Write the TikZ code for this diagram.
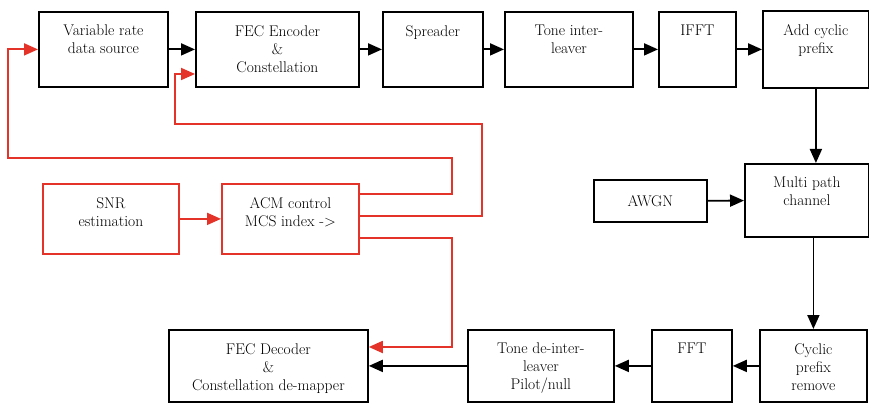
\documentclass[tikz,border=0pt]{standalone}
\usetikzlibrary{arrows.meta}

\definecolor{fbred}{RGB}{228,52,42}

\tikzset{
  blk/.style={draw, line width=1.8pt, anchor=north west, inner sep=0pt},
  fbblk/.style={blk, draw=fbred},
  toptext/.style={anchor=north, yshift=-14pt, align=center, inner sep=0pt,
    font=\fontsize{15.5}{18}\selectfont},
  sig/.style={line width=1.8pt, -{Triangle[length=14pt,width=12pt]}},
  fb/.style={sig, draw=fbred}
}

\begin{document}
\begin{tikzpicture}[x=1pt, y=-1pt]
  \useasboundingbox (0,0) rectangle (869,403);

  % transmitter chain
  \node[blk, minimum width=129pt, minimum height=75pt,
    label={[toptext]north:{Variable rate\\data source}}] (src) at (38,11) {};
  \node[blk, minimum width=163pt, minimum height=75pt,
    label={[toptext]north:{FEC Encoder\\\&\\Constellation}}] (enc) at (195,11) {};
  \node[blk, minimum width=100pt, minimum height=75pt,
    label={[toptext]north:{Spreader}}] (spr) at (382,11) {};
  \node[blk, minimum width=128pt, minimum height=75pt,
    label={[toptext]north:{Tone inter-\\leaver}}] (til) at (504,11) {};
  \node[blk, minimum width=77pt, minimum height=75pt,
    label={[toptext]north:{IFFT}}] (ifft) at (658,11) {};
  \node[blk, minimum width=106pt, minimum height=77pt,
    label={[toptext]north:{Add cyclic\\prefix}}] (acp) at (762,10) {};

  % ACM feedback (red)
  \node[fbblk, minimum width=136pt, minimum height=70pt,
    label={[toptext]north:{SNR\\estimation}}] (snr) at (42,183) {};
  \node[fbblk, minimum width=137pt, minimum height=70pt,
    label={[toptext]north:{ACM control\\MCS index ->}}] (acm) at (221,183) {};

  % channel
  \node[blk, minimum width=113pt, minimum height=42pt,
    font=\fontsize{15.5}{18}\selectfont] (awgn) at (593,179) {AWGN};
  \node[blk, minimum width=124pt, minimum height=73pt,
    label={[toptext]north:{Multi path\\channel}}] (mpc) at (744,163) {};

  % receiver chain
  \node[blk, minimum width=199pt, minimum height=72pt,
    label={[toptext]north:{FEC Decoder\\\&\\Constellation de-mapper}}] (dec) at (168,329) {};
  \node[blk, minimum width=146pt, minimum height=72pt,
    label={[toptext]north:{Tone de-inter-\\leaver\\Pilot/null}}] (tdi) at (467,329) {};
  \node[blk, minimum width=80pt, minimum height=72pt,
    label={[toptext]north:{FFT}}] (fft) at (651,329) {};
  \node[blk, minimum width=107pt, minimum height=72pt,
    label={[toptext]north:{Cyclic\\prefix\\remove}}] (cpr) at (759,329) {};

  % feedback taps on ACM
  \coordinate (acmA) at (358,194);
  \coordinate (acmB) at (358,216);
  \coordinate (acmC) at (358,238);

  % black signal path
  \draw[sig] (src) -- (enc);
  \draw[sig] (enc) -- (spr);
  \draw[sig] (spr) -- (til);
  \draw[sig] (til) -- (ifft);
  \draw[sig] (ifft) -- (acp);
  \draw[sig] (acp.south) -- (acp.south |- mpc.north);
  \draw[sig] (awgn) -- (mpc);
  \draw[sig] (cpr.north |- mpc.south) -- (cpr.north);
  \draw[sig] (cpr) -- (fft);
  \draw[sig] (fft) -- (tdi);
  \draw[sig] (tdi) -- (dec);

  % red control paths
  \draw[fb] (snr) -- (acm);
  \draw[fb] (acmA) -- (452,194) -- (452,158) -- (8,158) |- (src.west);
  \draw[fb] (acmB) -- (482,216) -- (482,124) -- (175,124) |- (enc.west |- 0,74);
  \draw[fb] (acmC) -- (452,238) |- (dec.east |- 0,347);
\end{tikzpicture}
\end{document}
